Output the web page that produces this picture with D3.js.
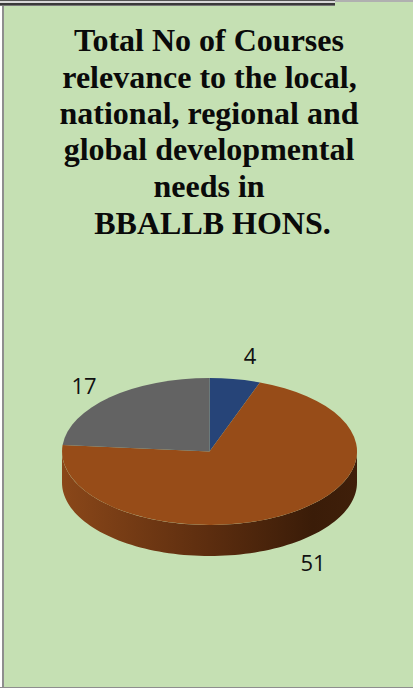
<!DOCTYPE html>
<html>
<head>
<meta charset="utf-8">
<script src="https://cdn.jsdelivr.net/npm/d3@7"></script>
<style>
html, body { margin: 0; padding: 0; background: #c5e0b3; overflow: hidden; }
svg { display: block; }
</style>
</head>
<body>
<script>
// chart data
var categories = ["A", "B", "C"];
var values = [4, 51, 17];
var colors = ["#264478", "#974c18", "#636363"];
var titleLines = [
	"Total No of Courses",
	"relevance to the local,",
	"national, regional and",
	"global developmental",
	"needs in",
	"BBALLB HONS."
];
var titleBaselines = [51, 88, 124, 160, 197, 234];
var titleCentres = [209, 209.5, 209, 209, 209, 212.5];
var labelPositions = [[250, 364], [313, 571], [84, 394]];

var width = 413;
var height = 688;
var cx = 209.5;
var cy = 451.5;
var rx = 147.5;
var ry = 73.5;
var depth = 31;

var svg = d3
	.select("body")
	.append("svg")
	.attr("width", width)
	.attr("height", height);

// frame
svg.append("rect").attr("width", width).attr("height", height).attr("fill", "#c5e0b3");
svg.append("rect").attr("x", 0).attr("y", 0).attr("width", 2).attr("height", height).attr("fill", "#ffffff");
svg.append("rect").attr("x", 2).attr("y", 6).attr("width", 2).attr("height", height).attr("fill", "#8e8e8e");
svg.append("rect").attr("x", 0).attr("y", 687).attr("width", width).attr("height", 1).attr("fill", "#8e8e8e");
svg.append("rect").attr("x", 335).attr("y", 0).attr("width", 78).attr("height", 2).attr("fill", "#b0b0b0");
svg.append("rect").attr("x", 0).attr("y", 0).attr("width", 335).attr("height", 1).attr("fill", "#555555");
svg.append("rect").attr("x", 0).attr("y", 1).attr("width", 335).attr("height", 2).attr("fill", "#d8d8d8");
svg.append("rect").attr("x", 0).attr("y", 3).attr("width", 335).attr("height", 2).attr("fill", "#3a3a3a");
svg.append("rect").attr("x", 0).attr("y", 5).attr("width", 335).attr("height", 1).attr("fill", "#777777");

// title
svg
	.selectAll("text.title")
	.data(titleLines)
	.enter()
	.append("text")
	.attr("class", "title")
	.attr("x", function (d, i) { return titleCentres[i]; })
	.attr("y", function (d, i) { return titleBaselines[i]; })
	.attr("text-anchor", "middle")
	.style("font-family", "'Liberation Serif'")
	.style("font-weight", "bold")
	.style("font-size", "32px")
	.style("fill", "#0a0a0a")
	.text(function (d) { return d; });

// side wall shading
var defs = svg.append("defs");
var grad = defs
	.append("linearGradient")
	.attr("id", "wall")
	.attr("x1", "0")
	.attr("x2", "1")
	.attr("y1", "0")
	.attr("y2", "0");
grad.append("stop").attr("offset", "0").attr("stop-color", "#8a4719");
grad.append("stop").attr("offset", "0.5").attr("stop-color", "#5c2d0f");
grad.append("stop").attr("offset", "0.85").attr("stop-color", "#3a1c08");
grad.append("stop").attr("offset", "1").attr("stop-color", "#3f1f0a");

var wallAngles = d3.range(90, 271, 2).map(function (d) { return d * Math.PI / 180; });
var wall = d3
	.area()
	.x(function (a) { return cx + rx * Math.sin(a); })
	.y0(function (a) { return cy - ry * Math.cos(a); })
	.y1(function (a) { return cy + depth - ry * Math.cos(a); });

svg.append("path").attr("d", wall(wallAngles)).attr("fill", "url(#wall)");

// top of the pie, drawn on a unit circle and squashed
var pie = d3.pie().sort(null).value(function (d) { return d; });
var arc = d3.arc().innerRadius(0).outerRadius(1);

svg
	.append("g")
	.attr("transform", "translate(" + cx + "," + cy + ") scale(" + rx + "," + ry + ")")
	.selectAll("path")
	.data(pie(values))
	.enter()
	.append("path")
	.attr("d", arc)
	.style("fill", function (d, i) { return colors[i]; });

// value labels
svg
	.selectAll("text.label")
	.data(values)
	.enter()
	.append("text")
	.attr("class", "label")
	.attr("x", function (d, i) { return labelPositions[i][0]; })
	.attr("y", function (d, i) { return labelPositions[i][1]; })
	.attr("text-anchor", "middle")
	.style("font-family", "'Open Sans'")
	.style("font-size", "22px")
	.style("fill", "#111111")
	.text(function (d) { return d; });
</script>
</body>
</html>
